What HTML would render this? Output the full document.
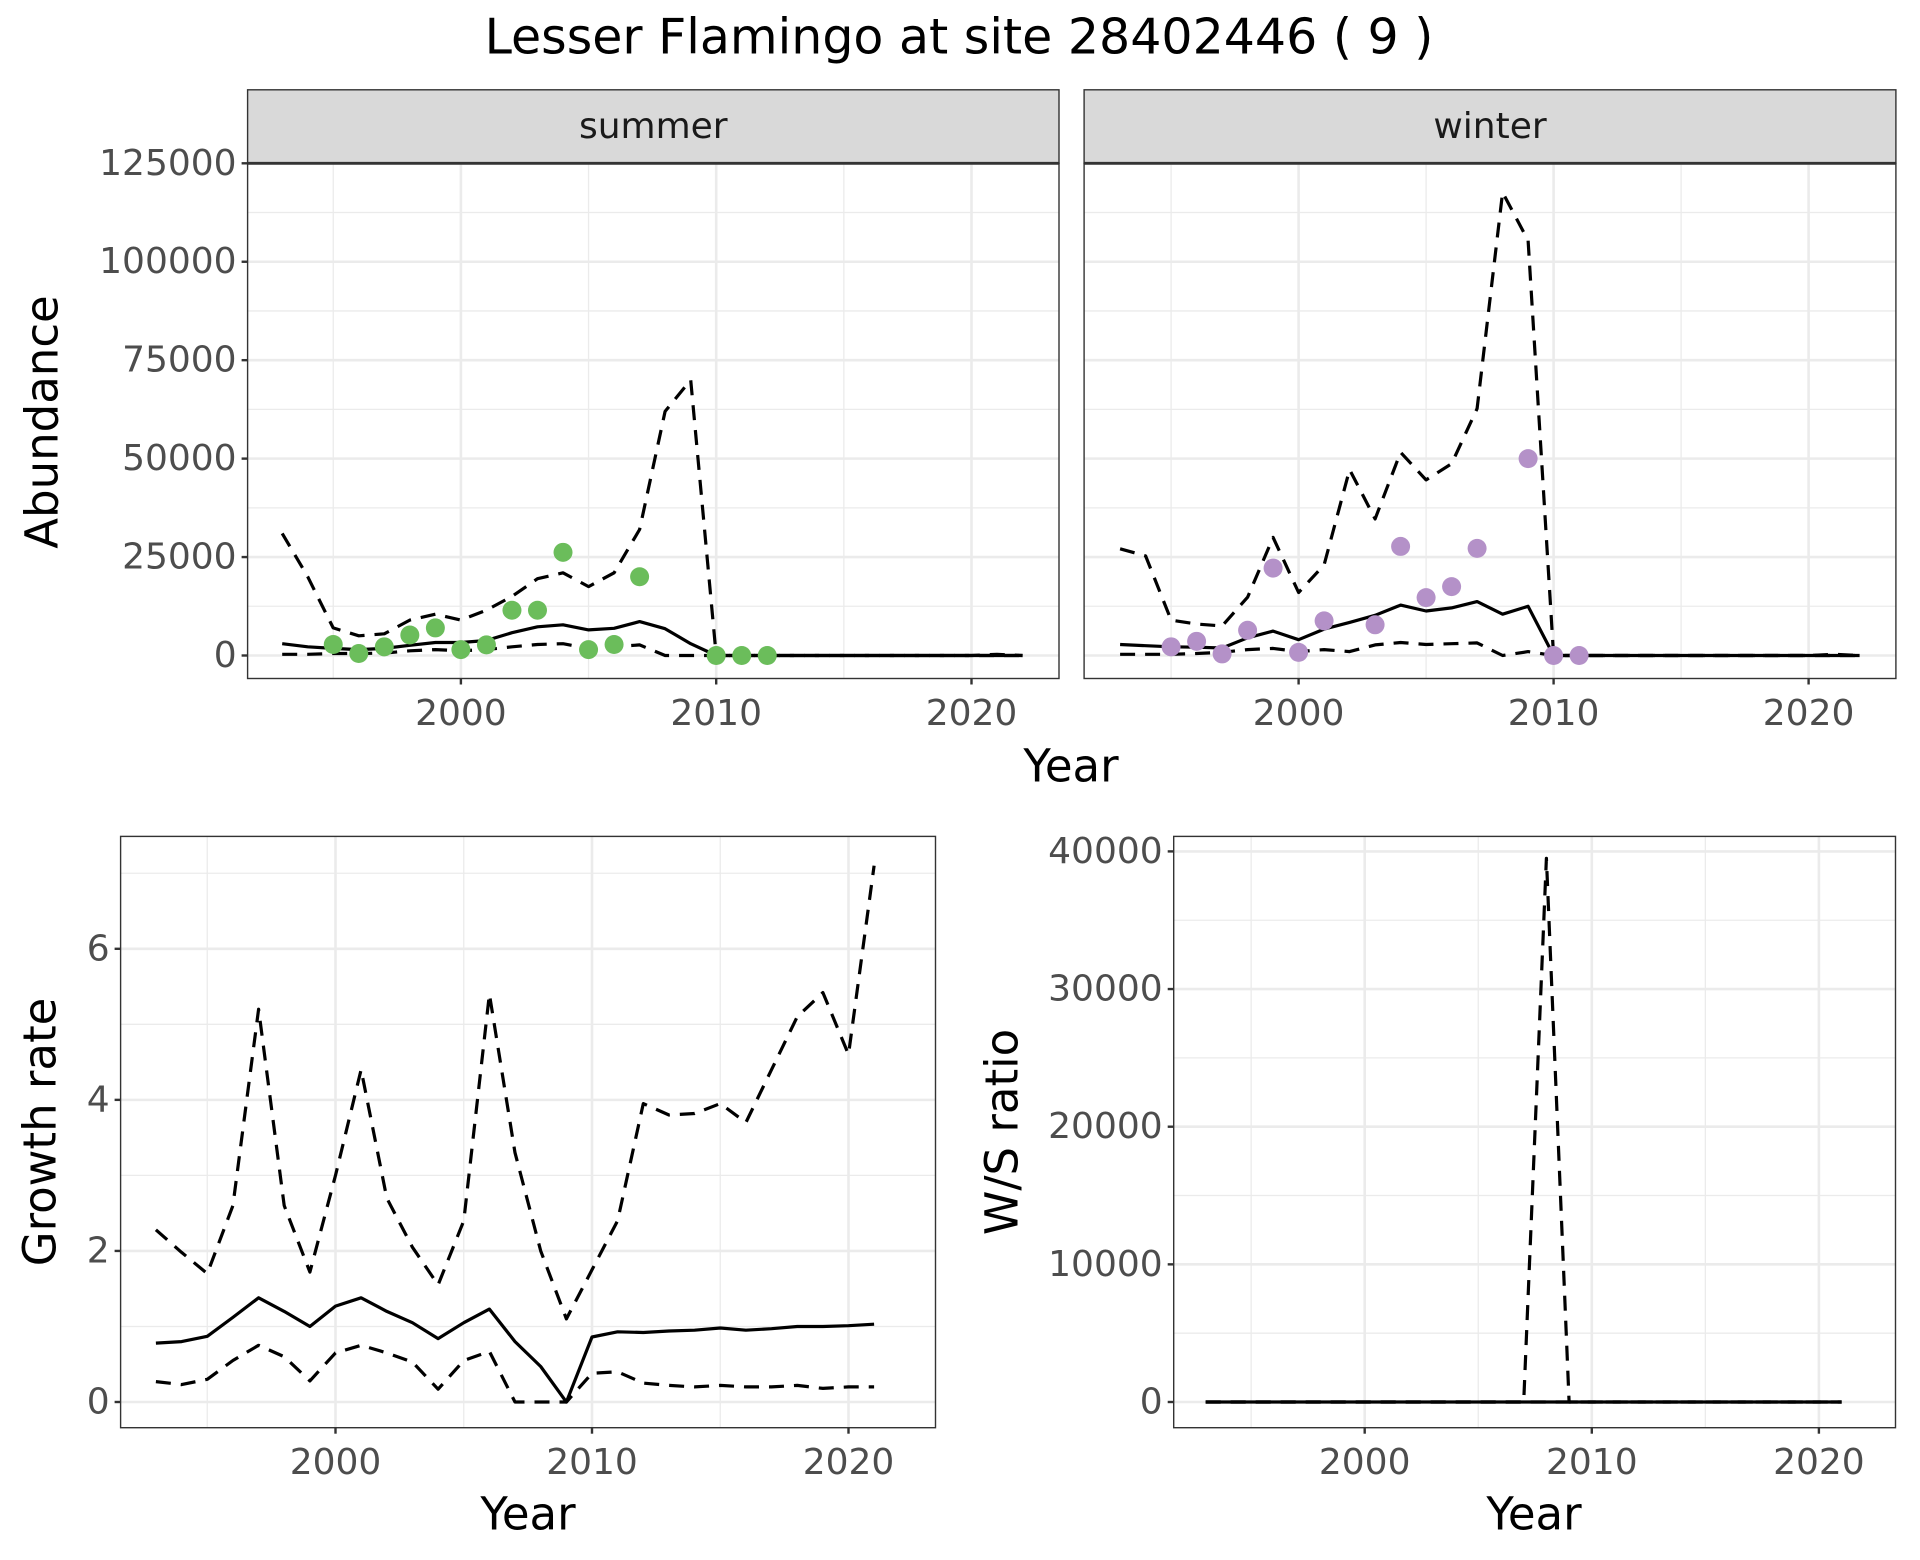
<!DOCTYPE html>
<html><head><meta charset="utf-8"><style>
html,body{margin:0;padding:0;background:#fff;}
svg{display:block;font-family:"DejaVu Sans","Liberation Sans",sans-serif;}
</style></head><body>
<svg id="chart" width="1920" height="1560" viewBox="0 0 1920 1560" xmlns="http://www.w3.org/2000/svg">
<rect width="1920" height="1560" fill="#fff"/>
<text x="959" y="37" font-size="49" text-anchor="middle" dominant-baseline="central" fill="#000">Lesser Flamingo at site 28402446 ( 9 )</text>
<g id="g"></g>
</svg>
<script>
const yearsA = [1993,1994,1995,1996,1997,1998,1999,2000,2001,2002,2003,2004,2005,2006,2007,2008,2009,2010,2011,2012,2013,2014,2015,2016,2017,2018,2019,2020,2021,2022];
const summerMid = [3000,2200,1800,1500,1800,2600,3300,3300,3800,5800,7300,7800,6500,6900,8600,6800,3000,0,0,0,0,0,0,0,0,0,0,0,0,0];
const summerUpper = [31000,20000,7000,5000,5500,9000,10500,9000,11500,15000,19500,21000,17500,21000,32000,62000,70000,0,0,0,0,0,0,0,0,0,0,0,300,0];
const summerLower = [300,300,500,500,600,1200,1500,1200,1500,2200,2800,3000,1800,2200,2700,0,0,0,0,0,0,0,0,0,0,0,0,0,0,0];
const summerPtYears = [1995,1996,1997,1998,1999,2000,2001,2002,2003,2004,2005,2006,2007,2010,2011,2012];
const summerPts = [2800,500,2200,5200,7000,1500,2700,11500,11500,26200,1500,2800,20000,0,0,0];
const winterMid = [2800,2500,2200,2100,1900,4500,6200,4000,6700,8400,10200,12800,11300,12100,13700,10500,12500,0,0,0,0,0,0,0,0,0,0,0,0,0];
const winterUpper = [27100,25300,9000,8000,7500,14800,30000,16000,23000,47200,34700,51600,44600,48700,62700,117600,105400,0,0,0,0,0,0,0,0,0,0,0,300,0];
const winterLower = [300,300,300,500,800,1500,1800,1000,1500,1000,2700,3300,2800,3000,3200,0,1000,0,0,0,0,0,0,0,0,0,0,0,0,0];
const winterPtYears = [1995,1996,1997,1998,1999,2000,2001,2003,2004,2005,2006,2007,2009,2010,2011];
const winterPts = [2200,3600,400,6400,22200,800,8800,7800,27700,14700,17500,27200,50000,0,0];
const yearsB = [1993,1994,1995,1996,1997,1998,1999,2000,2001,2002,2003,2004,2005,2006,2007,2008,2009,2010,2011,2012,2013,2014,2015,2016,2017,2018,2019,2020,2021];
const growthMid = [0.78,0.80,0.87,1.12,1.38,1.2,1.0,1.27,1.38,1.2,1.05,0.84,1.05,1.23,0.8,0.47,0,0.86,0.93,0.92,0.94,0.95,0.98,0.95,0.97,1.0,1.0,1.01,1.03];
const growthUpper = [2.28,1.98,1.7,2.6,5.2,2.6,1.72,3.0,4.4,2.7,2.05,1.55,2.4,5.4,3.3,2.0,1.1,1.75,2.4,3.95,3.8,3.82,3.95,3.7,4.4,5.1,5.42,4.6,7.1];
const growthLower = [0.27,0.23,0.3,0.55,0.75,0.6,0.28,0.65,0.75,0.65,0.53,0.17,0.55,0.67,0,0,0,0.38,0.4,0.25,0.22,0.2,0.22,0.2,0.2,0.22,0.18,0.2,0.2];
const ratioMid = [0,0,0,0,0,0,0,0,0,0,0,0,0,0,0,0,0,0,0,0,0,0,0,0,0,0,0,0,0];
const ratioUpper = [0,0,0,0,0,0,0,0,0,0,0,0,0,0,0,39500,0,0,0,0,0,0,0,0,0,0,0,0,0];
const ratioLower = [0,0,0,0,0,0,0,0,0,0,0,0,0,0,0,0,0,0,0,0,0,0,0,0,0,0,0,0,0];
const abundTicks = [0,25000,50000,75000,100000,125000];
const growthTicks = [0,2,4,6];
const ratioTicks = [0,10000,20000,30000,40000];
const yearTicks = [2000,2010,2020];

const NS="http://www.w3.org/2000/svg";
const G=document.getElementById('g');
function mk(tag,attrs,parent){const e=document.createElementNS(NS,tag);for(const k in attrs)e.setAttribute(k,attrs[k]);(parent||G).appendChild(e);return e;}
function lin(d0,d1,r0,r1){return v=>r0+(v-d0)*(r1-r0)/(d1-d0);}

function panel(o){
  const x=o.x, y=o.y;
  const grp=mk('g',{});
  
  
  for(let t=o.xMinor0;t<=o.xMax;t+=10){const p=x(t);if(p>o.L&&p<o.R)mk('line',{x1:p,x2:p,y1:o.T,y2:o.B,stroke:'#ebebeb','stroke-width':1.3},grp);}
  for(let i=0;i<o.yt.length;i++){const m=o.yt[i]+o.ystep/2;const p=y(m);if(p>o.T&&p<o.B)mk('line',{x1:o.L,x2:o.R,y1:p,y2:p,stroke:'#ebebeb','stroke-width':1.3},grp);}
  yearTicks.forEach(t=>{const p=x(t);mk('line',{x1:p,x2:p,y1:o.T,y2:o.B,stroke:'#ebebeb','stroke-width':2.6},grp);});
  o.yt.forEach(t=>{const p=y(t);mk('line',{x1:o.L,x2:o.R,y1:p,y2:p,stroke:'#ebebeb','stroke-width':2.6},grp);});
  const path=(ys,arr,dash,nm)=>{const d=arr.map((v,i)=>(i?'L':'M')+x(ys[i]).toFixed(1)+','+y(v).toFixed(1)).join('');
    const e=mk('path',{d:d,fill:'none',stroke:'#000','stroke-width':3.2,'stroke-linejoin':'round'},grp);
    if(dash)e.setAttribute('stroke-dasharray','15,10');
    
    };
  path(o.ys,o.lower,true,o.name+'-lower-line');
  path(o.ys,o.upper,true,o.name+'-upper-line');
  path(o.ys,o.mid,false,o.name+'-mid-line');
  if(o.pts){o.pts.forEach((v,i)=>{const c=mk('circle',{cx:x(o.ptYears[i]),cy:y(v),r:9.5,fill:o.col},grp);
    
    });}
  mk('rect',{x:o.L,y:o.T,width:o.R-o.L,height:o.B-o.T,fill:'none',stroke:'#333','stroke-width':1.4},grp);
  yearTicks.forEach(t=>{const p=x(t);mk('line',{x1:p,x2:p,y1:o.B,y2:o.B+6,stroke:'#333','stroke-width':2.4},grp);
    const tx=mk('text',{x:p,y:o.B+35,'font-size':36,'text-anchor':'middle','dominant-baseline':'central',fill:'#4d4d4d'},grp);tx.textContent=t;
    
    });
  if(o.yLabels){o.yt.forEach(t=>{const p=y(t);mk('line',{x1:o.L-6,x2:o.L,y1:p,y2:p,stroke:'#333','stroke-width':2.4},grp);
    const tx=mk('text',{x:o.L-11,y:p,'font-size':36,'text-anchor':'end','dominant-baseline':'central',fill:'#4d4d4d'},grp);tx.textContent=t;
    
    });}
  if(o.strip){const s=mk('rect',{x:o.L,y:o.sT,width:o.R-o.L,height:o.T-o.sT,fill:'#d9d9d9',stroke:'#333','stroke-width':1.4},grp);
    
    
    mk('line',{x1:o.L,x2:o.R,y1:o.T,y2:o.T,stroke:'#333','stroke-width':2.8},grp);
    const st=mk('text',{x:(o.L+o.R)/2,y:(o.sT+o.T)/2,'font-size':36,'text-anchor':'middle','dominant-baseline':'central',fill:'#1a1a1a'},grp);st.textContent=o.strip;
    
    }
}
const yA=lin(0,125000,655.5,163.3);
const xS=lin(2000,2010,460.9,716.2);
panel({name:'summer-panel',L:247.6,R:1059,T:163.3,B:678.5,sT:89.8,x:xS,y:yA,xMinor0:1995,xMax:2025,yt:abundTicks,ystep:25000,ys:yearsA,mid:summerMid,upper:summerUpper,lower:summerLower,pts:summerPts,ptYears:summerPtYears,col:'#6bbd5b',yLabels:true,strip:'summer'});
const xW=lin(2000,2010,1298.6,1553.6);
panel({name:'winter-panel',L:1084.1,R:1895.9,T:163.3,B:678.5,sT:89.8,x:xW,y:yA,xMinor0:1995,xMax:2025,yt:abundTicks,ystep:25000,ys:yearsA,mid:winterMid,upper:winterUpper,lower:winterLower,pts:winterPts,ptYears:winterPtYears,col:'#b491c8',yLabels:false,strip:'winter'});
const xG=lin(2000,2010,335.5,592);
const yG=lin(0,6,1402,948.8);
panel({name:'growth-panel',L:120.6,R:935.5,T:836.4,B:1427.7,x:xG,y:yG,xMinor0:1995,xMax:2025,yt:growthTicks,ystep:2,ys:yearsB,mid:growthMid,upper:growthUpper,lower:growthLower,yLabels:true});
const xR=lin(2000,2010,1364.7,1591.8);
const yR=lin(0,40000,1402,851.4);
panel({name:'ratio-panel',L:1173.7,R:1895.5,T:836.4,B:1427.7,x:xR,y:yR,xMinor0:1995,xMax:2025,yt:ratioTicks,ystep:10000,ys:yearsB,mid:ratioMid,upper:ratioUpper,lower:ratioLower,yLabels:true});

function label(txt,x,y,rot,nm){const t=mk('text',{x:x,y:y,'font-size':45,'text-anchor':'middle','dominant-baseline':'central',fill:'#000'});
  if(rot)t.setAttribute('transform','rotate(-90 '+x+' '+y+')');
  t.textContent=txt;
  
  }
label('Abundance',42,422,true,'y-axis-title-abundance');
label('Year',1071,766,false,'x-axis-title-top');
label('Growth rate',40,1132,true,'y-axis-title-growth');
label('Year',528,1514,false,'x-axis-title-growth');
label('W/S ratio',1002,1132,true,'y-axis-title-ratio');
label('Year',1534,1514,false,'x-axis-title-ratio');
</script>
</body></html>
